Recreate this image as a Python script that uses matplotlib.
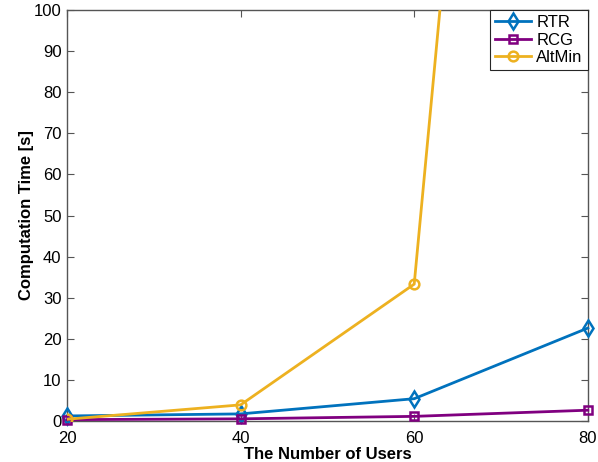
import numpy as np
import matplotlib.pyplot as plt

plt.rcParams['font.family'] = ['Liberation Sans', 'DejaVu Sans']

# number of users and computation time per method
users = [20, 40, 60, 80]
rtr = [1.2, 1.7, 5.4, 22.6]
rcg = [0.3, 0.5, 1.1, 2.6]
altmin = [0.4, 3.9, 33.3, 484.0]

fig = plt.figure(figsize=(5.98, 4.62), dpi=100)
ax = fig.add_axes([0.112, 0.089, 0.871, 0.889])

ax.plot(users, rtr, color='#0072BD', lw=2, marker='d', ms=8, mfc='none', mew=1.8, label='RTR', clip_on=False, zorder=3)
ax.plot(users, rcg, color='#800080', lw=2, marker='s', ms=6, mfc='none', mew=1.8, label='RCG', clip_on=False, zorder=3)
ax.plot(users, altmin, color='#EDB120', lw=2, marker='o', ms=7, mfc='none', mew=1.8, label='AltMin', zorder=3)

ax.set_xlim(20, 80)
ax.set_ylim(0, 100)
ax.set_xticks(users)
ax.set_yticks(np.arange(0, 101, 10))
ax.tick_params(direction='in', top=True, right=True, labelsize=12, length=5,
               color='#555555')
ax.tick_params(axis='x', pad=7)
ax.tick_params(axis='y', pad=4)
for s in ax.spines.values():
    s.set_color('#555555')
    s.set_linewidth(1)

ax.set_xlabel('The Number of Users', fontsize=12, fontweight='bold', labelpad=1)
ax.set_ylabel('Computation Time [s]', fontsize=12, fontweight='bold', labelpad=0)

leg = ax.legend(loc='upper right', fontsize=12, fancybox=False, framealpha=1,
                edgecolor='#262626', borderaxespad=0, handlelength=2.2,
                handletextpad=0.3, borderpad=0.3, labelspacing=0.15)
leg.get_frame().set_linewidth(0.8)

fig.savefig('out.png', dpi=100)
